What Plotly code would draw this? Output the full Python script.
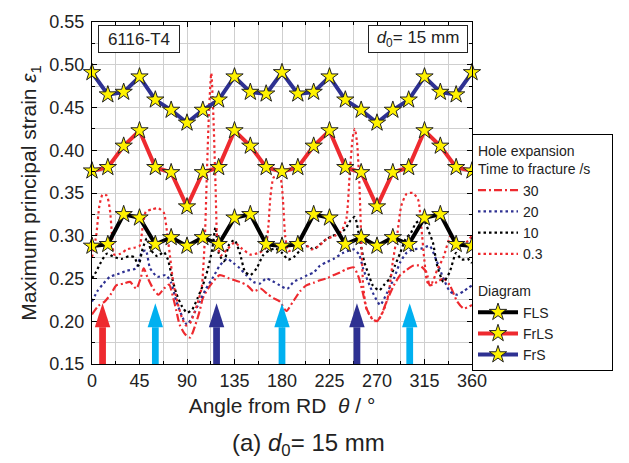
import plotly.graph_objects as go

# ---------------- data ----------------
diag_angles = [0, 15, 30, 45, 60, 75, 90, 105, 120, 135, 150, 165, 180,
               195, 210, 225, 240, 255, 270, 285, 300, 315, 330, 345, 360]
fls = [0.288, 0.290, 0.325, 0.321, 0.290, 0.298, 0.288, 0.298, 0.290, 0.321, 0.325, 0.290, 0.288,
       0.290, 0.325, 0.321, 0.290, 0.298, 0.288, 0.298, 0.290, 0.321, 0.325, 0.290, 0.288]
frls = [0.376, 0.380, 0.405, 0.423, 0.380, 0.374, 0.334, 0.374, 0.380, 0.423, 0.405, 0.380, 0.375,
        0.380, 0.405, 0.423, 0.380, 0.374, 0.334, 0.374, 0.380, 0.423, 0.405, 0.380, 0.376]
frs = [0.491, 0.465, 0.468, 0.486, 0.459, 0.447, 0.432, 0.447, 0.459, 0.486, 0.468, 0.466, 0.491,
       0.466, 0.468, 0.486, 0.459, 0.447, 0.432, 0.447, 0.459, 0.486, 0.468, 0.465, 0.491]

# hole expansion, time to fracture 30 s (red dash-dot)
t30_angle = [0, 6, 12, 18, 23, 30, 36, 42, 46, 49, 53, 58, 63, 68, 73, 77, 80, 83, 88, 93, 98,
             102, 105, 112, 121, 130, 140, 147, 153, 160, 166, 172, 178, 184, 190, 197, 203, 210,
             216, 222, 229, 235, 241, 248, 253, 257, 260, 265, 270, 275, 279, 286, 292, 298, 304,
             311, 317, 320, 327, 333, 339, 346, 352, 360]
t30_value = [0.208, 0.218, 0.223, 0.232, 0.242, 0.244, 0.246, 0.238, 0.25, 0.262, 0.25, 0.238,
             0.231, 0.238, 0.243, 0.227, 0.212, 0.196, 0.185, 0.181, 0.196, 0.212, 0.227, 0.242,
             0.254, 0.25, 0.246, 0.242, 0.235, 0.238, 0.232, 0.227, 0.223, 0.212, 0.222, 0.235,
             0.242, 0.245, 0.248, 0.25, 0.254, 0.257, 0.261, 0.263, 0.25, 0.231, 0.215, 0.204,
             0.2, 0.21, 0.223, 0.242, 0.254, 0.26, 0.265, 0.265, 0.257, 0.242, 0.246, 0.25,
             0.242, 0.223, 0.215, 0.219]

# 20 s (blue dotted)
t20_angle = [0, 5, 10, 17, 24, 33, 42, 47, 51, 55, 62, 70, 75, 80, 86, 90, 95, 102, 108, 115,
             121, 128, 134, 140, 146, 153, 159, 165, 171, 178, 185, 191, 198, 204, 210, 216, 222,
             229, 238, 248, 253, 257, 263, 267, 273, 279, 286, 292, 298, 304, 312, 320, 326, 333,
             339, 346, 353, 360]
t20_value = [0.223, 0.235, 0.243, 0.252, 0.255, 0.259, 0.262, 0.28, 0.283, 0.262, 0.252, 0.254,
             0.245, 0.223, 0.204, 0.196, 0.205, 0.223, 0.238, 0.252, 0.265, 0.273, 0.268, 0.262,
             0.254, 0.246, 0.244, 0.25, 0.247, 0.242, 0.238, 0.246, 0.25, 0.254, 0.257, 0.265,
             0.269, 0.273, 0.28, 0.284, 0.278, 0.261, 0.242, 0.231, 0.219, 0.232, 0.25, 0.269,
             0.28, 0.284, 0.285, 0.288, 0.272, 0.25, 0.235, 0.231, 0.236, 0.242]

# 10 s (black dotted)
t10_angle = [0, 4, 8, 14, 21, 28, 35, 40, 44, 48, 52, 56, 62, 68, 72, 76, 80, 85, 90, 95, 100,
             105, 110, 114, 117, 120, 125, 130, 135, 140, 145, 150, 156, 162, 168, 174, 180, 186,
             192, 198, 204, 210, 216, 222, 228, 234, 240, 245, 249, 253, 258, 262, 266, 272, 277,
             282, 287, 292, 297, 302, 307, 314, 319, 323, 327, 333, 339, 345, 350, 356, 360]
t10_value = [0.25, 0.258, 0.268, 0.279, 0.275, 0.273, 0.276, 0.275, 0.265, 0.285, 0.297, 0.283,
             0.276, 0.281, 0.272, 0.25, 0.232, 0.218, 0.21, 0.214, 0.227, 0.242, 0.262, 0.285,
             0.31, 0.28, 0.27, 0.29, 0.295, 0.28, 0.258, 0.254, 0.262, 0.277, 0.283, 0.285, 0.28,
             0.272, 0.276, 0.284, 0.288, 0.284, 0.29, 0.296, 0.3, 0.302, 0.308, 0.318, 0.322,
             0.3, 0.269, 0.255, 0.242, 0.236, 0.243, 0.25, 0.265, 0.28, 0.296, 0.303, 0.315,
             0.319, 0.305, 0.292, 0.265, 0.246, 0.258, 0.28, 0.272, 0.273, 0.268]

# 0.3 s (red dotted)
t03_angle = [0, 4, 7, 10, 14, 17, 19, 21, 27, 33, 40, 45, 48, 51, 57, 63, 68, 71, 74, 77, 81,
             85, 89, 93, 97, 101, 104, 107, 109, 111, 113, 115, 117, 119, 122, 128, 135, 142, 150,
             158, 164, 167, 169, 172, 176, 179, 181, 183, 186, 192, 200, 208, 215, 222, 230, 236,
             241, 244, 247, 249, 251, 253, 255, 257, 260, 264, 268, 272, 277, 281, 285, 289, 293,
             298, 304, 309, 312, 315, 318, 322, 327, 333, 340, 347, 353, 360]
t03_value = [0.275, 0.30, 0.335, 0.348, 0.347, 0.33, 0.30, 0.278, 0.279, 0.284, 0.286, 0.288,
             0.31, 0.328, 0.331, 0.332, 0.327, 0.305, 0.275, 0.245, 0.222, 0.205, 0.195, 0.198,
             0.21, 0.225, 0.24, 0.30, 0.38, 0.45, 0.49, 0.44, 0.36, 0.29, 0.277, 0.284, 0.292,
             0.285, 0.278, 0.28, 0.285, 0.31, 0.345, 0.368, 0.37, 0.365, 0.34, 0.30, 0.282,
             0.286, 0.292, 0.284, 0.288, 0.296, 0.30, 0.305, 0.32, 0.37, 0.415, 0.425, 0.41,
             0.37, 0.30, 0.24, 0.215, 0.205, 0.20, 0.203, 0.215, 0.232, 0.27, 0.30, 0.335,
             0.349, 0.35, 0.342, 0.31, 0.27, 0.245, 0.245, 0.26, 0.275, 0.30, 0.285, 0.29, 0.30]

arrow_angles = [10, 60, 118, 180, 251, 301]
arrow_colors = ["#EE2A2F", "#00B0F0", "#2E3192", "#00B0F0", "#2E3192", "#00B0F0"]
arrow_base, arrow_neck, arrow_tip = 0.15, 0.193, 0.221

RED = "#EE2A2F"
BLUE = "#2E3192"
BLACK = "#000000"
STAR = "#FFF200"
FONT = "Liberation Sans, Arial, sans-serif"
TXT = "#222222"

fig = go.Figure()

exp_title = "Hole expansion<br>Time to fracture /s&nbsp;&nbsp;&nbsp;"
for name, xs, ys, col, dash in [
    ("30", t30_angle, t30_value, RED, "8px,3px,2px,3px"),
    ("20", t20_angle, t20_value, BLUE, "2.5px,3px"),
    ("10", t10_angle, t10_value, BLACK, "2.5px,3px"),
    ("0.3", t03_angle, t03_value, RED, "2.5px,3px"),
]:
    fig.add_trace(go.Scatter(
        x=xs, y=ys, mode="lines", name=name,
        line=dict(color=col, width=2.2, dash=dash, shape="spline", smoothing=0.6),
        legendgroup="exp", legendgrouptitle=dict(text=exp_title, font=dict(size=14, color=TXT)),
    ))

for name, ys, col in [("FLS", fls, BLACK), ("FrLS", frls, RED), ("FrS", frs, BLUE)]:
    fig.add_trace(go.Scatter(
        x=diag_angles, y=ys, mode="lines+markers", name=name,
        line=dict(color=col, width=4),
        marker=dict(symbol="star", size=13, color=STAR, line=dict(color=TXT, width=1)),
        legendgroup="diag", legendgrouptitle=dict(text="Diagram", font=dict(size=14, color=TXT)),
        cliponaxis=False,
    ))

# arrows
shapes = []
for a, c in zip(arrow_angles, arrow_colors):
    shapes.append(dict(type="rect", xref="x", yref="y", x0=a - 3.2, x1=a + 3.2,
                       y0=arrow_base, y1=arrow_neck, fillcolor=c, line=dict(width=0), layer="above"))
    shapes.append(dict(type="path", xref="x", yref="y",
                       path=f"M{a - 7.3},{arrow_neck} L{a + 7.3},{arrow_neck} L{a},{arrow_tip} Z",
                       fillcolor=c, line=dict(width=0), layer="above"))

grid = "#CFCFCF"
axis_common = dict(showline=True, linecolor="black", linewidth=1.2, mirror="ticks",
                   ticks="inside", ticklen=5, tickcolor="black", showgrid=True, gridcolor=grid,
                   gridwidth=1, zeroline=False, tickfont=dict(size=18, color=TXT))

fig.update_layout(
    width=629, height=463,
    margin=dict(l=92, r=157, t=15, b=99),
    paper_bgcolor="white", plot_bgcolor="white",
    font=dict(family=FONT, color=TXT, size=16),
    xaxis=dict(range=[0, 360], dtick=45, tick0=0,
               minor=dict(dtick=22.5, showgrid=True, gridcolor=grid, ticks="inside", ticklen=3),
               title=dict(text="Angle from RD&nbsp;&nbsp;<i>θ</i> / °",
                          font=dict(size=21, color=TXT), standoff=8),
               **axis_common),
    yaxis=dict(range=[0.15, 0.55], dtick=0.05, tick0=0.15, tickformat=".2f",
               ticklabelstandoff=3,
               minor=dict(dtick=0.025, showgrid=True, gridcolor=grid, ticks="inside", ticklen=3),
               title=dict(text="Maximum principal strain <i>ε</i><sub>1</sub>",
                          font=dict(size=21, color=TXT), standoff=6),
               **axis_common),
    showlegend=True,
    legend=dict(x=1.0, xanchor="left", y=0.672, yanchor="top",
                bordercolor="black", borderwidth=1, bgcolor="white",
                font=dict(size=14, color=TXT), tracegroupgap=16,
                traceorder="grouped", itemwidth=40,
                grouptitlefont=dict(size=14, color=TXT)),
    shapes=shapes,
    annotations=[
        dict(text="6116-T4", xref="paper", yref="paper", x=0.016, y=0.992, xanchor="left",
             yanchor="top", showarrow=False, font=dict(size=17, color=TXT), bordercolor=TXT,
             borderwidth=1, bgcolor="white", width=78, height=24, borderpad=1),
        dict(text="<i>d</i><sub>0</sub>= 15 mm", xref="paper", yref="paper", x=0.9895, y=0.992,
             xanchor="right", yanchor="top", showarrow=False, font=dict(size=17, color=TXT),
             bordercolor=TXT, borderwidth=1, bgcolor="white", width=96, height=24, borderpad=1),
        dict(text="(a) <i>d</i><sub>0</sub>= 15 mm", xref="paper", yref="paper", x=0.571,
             y=-0.185, xanchor="center", yanchor="top", showarrow=False,
             font=dict(size=24, color=TXT)),
    ],
)

fig.write_html("out.html")
